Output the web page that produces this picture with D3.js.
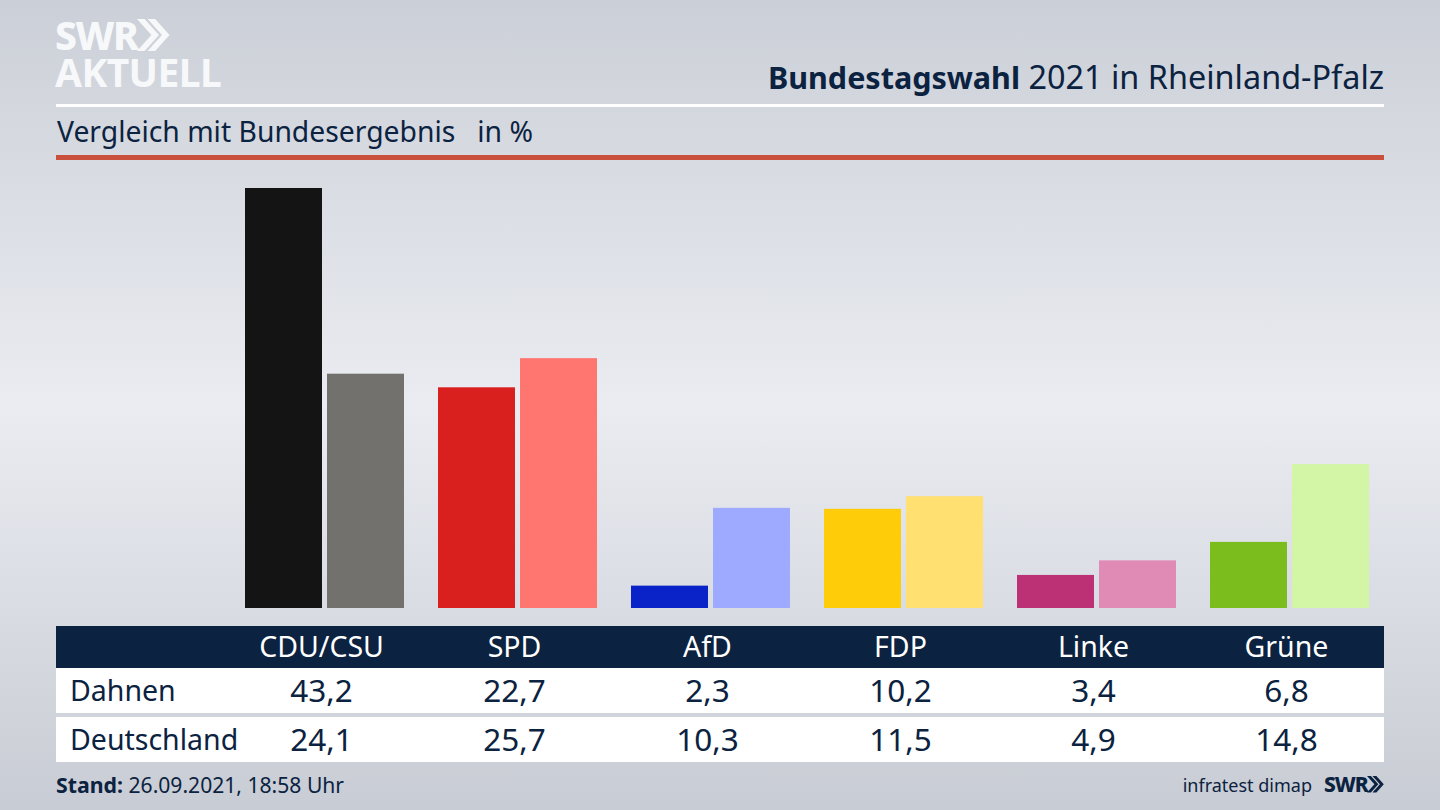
<!DOCTYPE html>
<html>
<head>
<meta charset="utf-8">
<script src="https://cdn.jsdelivr.net/npm/d3@7"></script>
<style>
html,body{margin:0;padding:0;background:#d8dbe1;overflow:hidden}
text{font-family:"Noto Sans",sans-serif;fill:#0b2240}
</style>
</head>
<body>
<div id="chart"></div>
<script>
var parties = ["CDU/CSU","SPD","AfD","FDP","Linke","Grüne"];
var dahnen = [43.2,22.7,2.3,10.2,3.4,6.8];
var deutschland = [24.1,25.7,10.3,11.5,4.9,14.8];
var colorsDahnen = ["#141414","#d9201e","#0a23c8","#ffcc0a","#bc3076","#7abd1c"];
var colorsDeutschland = ["#73716e","#ff7570","#9eaaff","#ffe070","#e08ab6","#d3f6a6"];
var rowNames = ["Dahnen","Deutschland"];
var navy = "#0b2240";

var width = 1440, height = 810;
var svg = d3.select("#chart").append("svg").attr("width",width).attr("height",height).style("display","block");

var grad = svg.append("defs").append("linearGradient").attr("id","bg").attr("x1",0).attr("x2",0).attr("y1",0).attr("y2",1);
grad.append("stop").attr("offset","0%").attr("stop-color","#cbcfd7");
grad.append("stop").attr("offset","50%").attr("stop-color","#eaecf1");
grad.append("stop").attr("offset","100%").attr("stop-color","#c8ccd4");
svg.append("rect").attr("width",width).attr("height",height).attr("fill","url(#bg)");

// logo
var logo = svg.append("g").attr("id","logo");
logo.append("text").attr("x",55).attr("y",50).attr("font-size",39).attr("font-weight",800).attr("letter-spacing",-1.5).style("fill","#f7f8fa").text("SWR");
logo.append("text").attr("x",55).attr("y",87).attr("font-size",39).attr("font-weight",700).attr("letter-spacing",-0.6).style("fill","#f7f8fa").text("AKTUELL");
function chevrons(g,x,y,h,color){
  var w = h*0.45, t = h*0.33;
  [0,t].forEach(function(dx){
    var p = d3.path();
    p.moveTo(x+dx,y); p.lineTo(x+dx+t*0.72,y); p.lineTo(x+dx+t*0.72+w,y+h/2); p.lineTo(x+dx+t*0.72,y+h); p.lineTo(x+dx,y+h); p.lineTo(x+dx+w,y+h/2); p.closePath();
    g.append("path").attr("d",p.toString()).attr("fill",color);
  });
}
chevrons(logo,137,19,32,"#f7f8fa");

// header
var title = svg.append("text").attr("x",1384).attr("y",89).attr("text-anchor","end");
title.append("tspan").attr("font-weight",700).attr("font-size",30.5).text("Bundestagswahl");
title.append("tspan").attr("font-size",32.4).text(" 2021 in Rheinland-Pfalz");
svg.append("rect").attr("x",56).attr("y",104).attr("width",1328).attr("height",3).attr("fill","#fff");
svg.append("text").attr("x",57).attr("y",142).attr("font-size",28.3).style("white-space","pre").text("Vergleich mit Bundesergebnis   in %");
svg.append("rect").attr("x",56).attr("y",155).attr("width",1328).attr("height",5).attr("fill","#c9503c");

// bars
var x0 = d3.scaleBand().domain(parties).range([228,1386]);
var x1 = d3.scaleBand().domain([0,1]).range([17,176]).paddingInner(5/82);
var y = d3.scaleLinear().domain([0,43.2]).range([608,188]);

var groups = svg.append("g").selectAll("g").data(parties).join("g")
  .attr("transform",function(d){return "translate("+x0(d)+",0)";});
groups.append("rect").attr("x",x1(0)).attr("width",x1.bandwidth())
  .attr("y",function(d,i){return y(dahnen[i]);})
  .attr("height",function(d,i){return y(0)-y(dahnen[i]);})
  .attr("fill",function(d,i){return colorsDahnen[i];});
groups.append("rect").attr("x",x1(1)).attr("width",x1.bandwidth())
  .attr("y",function(d,i){return y(deutschland[i]);})
  .attr("height",function(d,i){return y(0)-y(deutschland[i]);})
  .attr("fill",function(d,i){return colorsDeutschland[i];});

// table
var colX = function(p){return x0(p)+x0.bandwidth()/2-3;};
var fmt = function(v){return v.toFixed(1).replace(".",",");};
svg.append("rect").attr("x",56).attr("y",626).attr("width",1328).attr("height",42).attr("fill",navy);
svg.append("rect").attr("x",56).attr("y",668).attr("width",1328).attr("height",45).attr("fill","#fff");
svg.append("rect").attr("x",56).attr("y",717).attr("width",1328).attr("height",45).attr("fill","#fff");

svg.append("g").selectAll("text").data(parties).join("text")
  .attr("x",colX).attr("y",657).attr("text-anchor","middle").attr("font-size",28.5)
  .style("fill","#fff").text(function(d){return d;});

[dahnen,deutschland].forEach(function(row,r){
  var base = r==0 ? 701 : 750;
  svg.append("text").attr("x",70).attr("y",base).attr("font-size",28.5).text(rowNames[r]);
  svg.append("g").selectAll("text").data(row).join("text")
    .attr("x",function(d,i){return colX(parties[i]);}).attr("y",base+1)
    .attr("text-anchor","middle").attr("font-size",31.5)
    .text(fmt);
});

// footer
var stand = svg.append("text").attr("x",56).attr("y",793);
stand.append("tspan").attr("font-weight",700).attr("font-size",21.3).text("Stand:");
stand.append("tspan").attr("font-size",21.1).text(" 26.09.2021, 18:58 Uhr");
svg.append("text").attr("x",1312).attr("y",792).attr("text-anchor","end").attr("font-size",18).text("infratest dimap");
svg.append("text").attr("x",1324).attr("y",792).attr("font-size",21).attr("font-weight",800).attr("letter-spacing",-1).text("SWR");
chevrons(svg.append("g"),1367,776,16.5,navy);
</script>
</body>
</html>
